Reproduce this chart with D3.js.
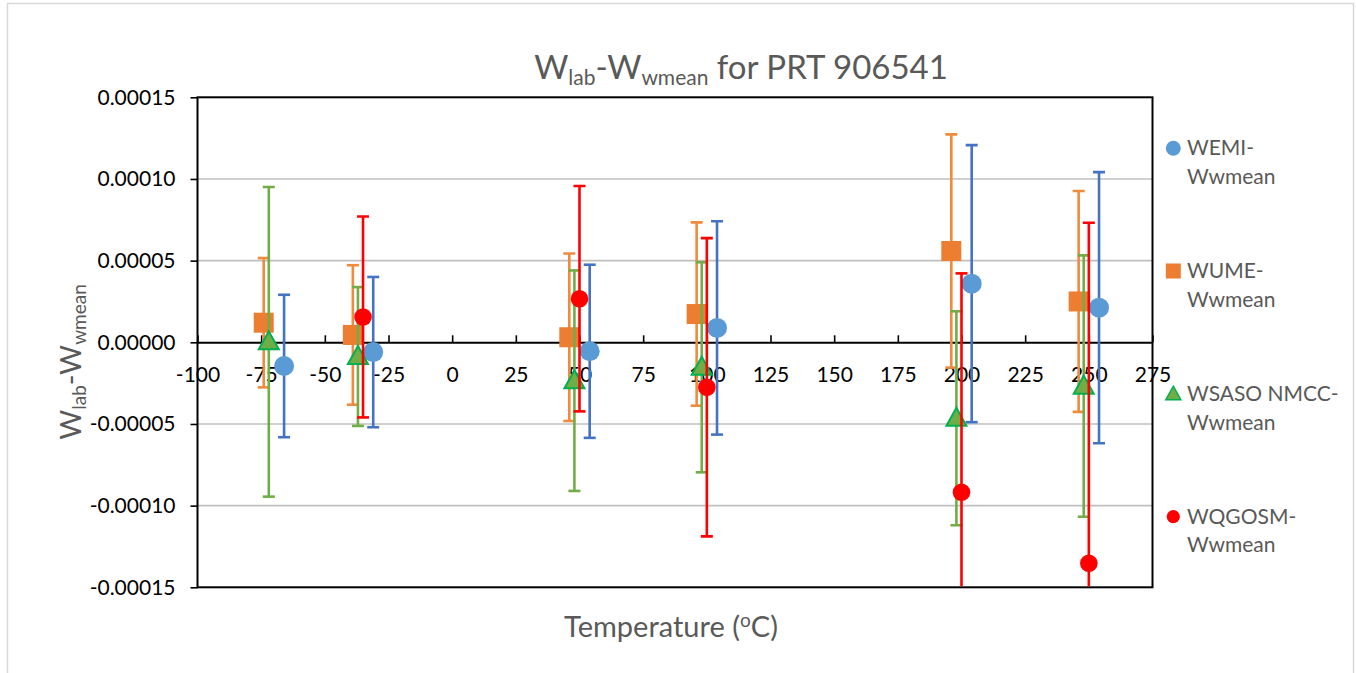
<!DOCTYPE html>
<html>
<head>
<meta charset="utf-8">
<script src="https://cdn.jsdelivr.net/npm/d3@7"></script>
<style>
  html, body { margin: 0; padding: 0; background: #fff; }
  svg { display: block; font-family: Lato, "Open Sans", sans-serif; }
</style>
</head>
<body>
<svg id="chart" width="1356" height="673"></svg>
<script>
// Series: temperature (°C), deviation W_lab - W_wmean, and half-width of the error bar
const seriesNames = ["WEMI-Wwmean", "WUME-Wwmean", "WSASO NMCC-Wwmean", "WQGOSM-Wwmean"];
const legendLines = [["WEMI-", "Wwmean"], ["WUME-", "Wwmean"], ["WSASO NMCC-", "Wwmean"], ["WQGOSM-", "Wwmean"]];

const wemiT   = [-66, -31, 54, 104, 204, 254];
const wemiW   = [-1.45e-5, -0.60e-5, -0.55e-5, 0.88e-5, 3.59e-5, 2.12e-5];
const wemiU   = [4.36e-5, 4.60e-5, 5.30e-5, 6.53e-5, 8.48e-5, 8.30e-5];

const wumeT   = [-74, -39, 46, 96, 196, 246];
const wumeW   = [1.20e-5, 0.45e-5, 0.31e-5, 1.73e-5, 5.59e-5, 2.50e-5];
const wumeU   = [3.96e-5, 4.27e-5, 5.13e-5, 5.61e-5, 7.14e-5, 6.76e-5];

const wsasoT  = [-72, -37, 48, 98, 198, 248];
const wsasoW  = [0.03e-5, -0.87e-5, -2.35e-5, -1.53e-5, -4.65e-5, -2.68e-5];
const wsasoU  = [9.48e-5, 4.25e-5, 6.75e-5, 6.43e-5, 6.55e-5, 8.00e-5];

const wqgosmT = [-35, 50, 100, 200, 250];
const wqgosmW = [1.55e-5, 2.67e-5, -2.75e-5, -9.18e-5, -13.53e-5];
const wqgosmU = [6.15e-5, 6.90e-5, 9.13e-5, 13.40e-5, 20.85e-5];

const xTicks = [-100, -75, -50, -25, 0, 25, 50, 75, 100, 125, 150, 175, 200, 225, 250, 275];
const yTicks = [-0.00015, -0.0001, -0.00005, 0, 0.00005, 0.0001, 0.00015];

const seriesStyle = [
  { shape: "circle",   fill: "#5b9bd5", stroke: "none",    bar: "#4472c4" },
  { shape: "square",   fill: "#ed7d31", stroke: "none",    bar: "#f08a3c" },
  { shape: "triangle", fill: "#70ad47", stroke: "#00b050", bar: "#70ad47" },
  { shape: "circle",   fill: "#ff0000", stroke: "none",    bar: "#ff0000", small: true }
];

const series = [
  { T: wemiT, W: wemiW, U: wemiU },
  { T: wumeT, W: wumeW, U: wumeU },
  { T: wsasoT, W: wsasoW, U: wsasoU },
  { T: wqgosmT, W: wqgosmW, U: wqgosmU }
].map((s, i) => ({ name: seriesNames[i], style: seriesStyle[i],
  points: s.T.map((t, j) => ({ t, w: s.W[j], u: s.U[j] })) }));

const loc = d3.formatLocale({ decimal: ".", thousands: ",", grouping: [3], currency: ["", ""], minus: "-" });
const fmtY = loc.format(".5f");
const fmtX = loc.format("d");

const svg = d3.select("#chart");
const plot = { left: 197.5, right: 1152.5, top: 97.3, bottom: 587.3 };

const x = d3.scaleLinear().domain([-100, 275]).range([plot.left, plot.right]);
const y = d3.scaleLinear().domain([-0.00015, 0.00015]).range([plot.bottom, plot.top]);

// outer chart frame
svg.append("rect")
  .attr("x", 7.5).attr("y", 3.5).attr("width", 1346).attr("height", 720)
  .attr("fill", "#fff").attr("stroke", "#d9d9d9").attr("stroke-width", 1.5);

// horizontal gridlines
svg.append("g").selectAll("line")
  .data(yTicks.filter(v => v !== 0 && Math.abs(v) < 0.00014))
  .join("line")
  .attr("x1", plot.left).attr("x2", plot.right)
  .attr("y1", d => y(d)).attr("y2", d => y(d))
  .attr("stroke", "#c0c0c0").attr("stroke-width", 1.6);

// y axis with outside ticks
const yAxis = svg.append("g")
  .attr("transform", `translate(${plot.left},0)`)
  .call(d3.axisLeft(y).tickValues(yTicks).tickFormat(fmtY).tickSizeInner(7).tickSizeOuter(0).tickPadding(15));
yAxis.select(".domain").remove();
yAxis.selectAll(".tick line").attr("stroke", "#000").attr("stroke-width", 1.6);
yAxis.selectAll(".tick text").attr("fill", "#000").attr("font-size", 21).attr("font-family", "Lato");

// x axis along zero, ticks pointing upward
const xAxis = svg.append("g")
  .attr("transform", `translate(0,${y(0)})`)
  .call(d3.axisBottom(x).tickValues(xTicks).tickFormat(fmtX).tickSizeInner(-7).tickSizeOuter(0).tickPadding(24.5));
xAxis.select(".domain").attr("stroke", "#000").attr("stroke-width", 2);
xAxis.selectAll(".tick line").attr("stroke", "#000").attr("stroke-width", 1.6);
xAxis.selectAll(".tick text").attr("fill", "#000").attr("font-size", 21).attr("font-family", "Lato");

// plot frame
svg.append("rect")
  .attr("x", plot.left).attr("y", plot.top)
  .attr("width", plot.right - plot.left).attr("height", plot.bottom - plot.top)
  .attr("fill", "none").attr("stroke", "#000").attr("stroke-width", 2);

// clip for marks
svg.append("defs").append("clipPath").attr("id", "plotClip")
  .append("rect")
  .attr("x", plot.left).attr("y", plot.top)
  .attr("width", plot.right - plot.left).attr("height", plot.bottom - plot.top - 1);

const marks = svg.append("g").attr("clip-path", "url(#plotClip)");

function drawMarker(g, style, cx, cy, size) {
  if (style.shape === "circle") {
    const r = style.small ? size * 0.44 : size / 2;
    g.append("circle").attr("cx", cx).attr("cy", cy).attr("r", r).attr("fill", style.fill);
  } else if (style.shape === "square") {
    g.append("rect").attr("x", cx - size / 2).attr("y", cy - size / 2)
      .attr("width", size).attr("height", size).attr("fill", style.fill);
  } else {
    const w = size, h = size * 0.9;
    g.append("path")
      .attr("d", `M${cx},${cy - h * 0.58} L${cx + w / 2},${cy + h * 0.42} L${cx - w / 2},${cy + h * 0.42} Z`)
      .attr("fill", style.fill).attr("stroke", style.stroke)
      .attr("stroke-width", size > 16 ? 2 : 1.5).attr("stroke-linejoin", "miter");
  }
}

series.forEach(s => {
  const g = marks.append("g");
  const capHalf = 6;
  s.points.forEach(p => {
    const px = x(p.t);
    const yHi = y(p.w + p.u), yLo = y(p.w - p.u);
    g.append("line").attr("x1", px).attr("x2", px).attr("y1", yHi).attr("y2", yLo)
      .attr("stroke", s.style.bar).attr("stroke-width", 2.6);
    [yHi, yLo].forEach(cy => {
      g.append("line").attr("x1", px - capHalf).attr("x2", px + capHalf).attr("y1", cy).attr("y2", cy)
        .attr("stroke", s.style.bar).attr("stroke-width", 2.6);
    });
  });
  s.points.forEach(p => drawMarker(g, s.style, x(p.t), y(p.w), 20));
});

// title
const title = svg.append("text")
  .attr("x", 741).attr("y", 79).attr("text-anchor", "middle")
  .attr("font-size", 33).attr("fill", "#595959").attr("font-family", "Lato");
title.append("tspan").text("W");
title.append("tspan").attr("font-size", 21).attr("dy", 6).text("lab");
title.append("tspan").attr("dy", -6).text("-W");
title.append("tspan").attr("font-size", 21).attr("dy", 6).text("wmean");
title.append("tspan").attr("dy", -6).text(" for PRT 906541");

// y axis title
const yTitle = svg.append("text")
  .attr("transform", "translate(81,362) rotate(-90)")
  .attr("text-anchor", "middle")
  .attr("font-size", 29).attr("fill", "#595959").attr("font-family", "Lato");
yTitle.append("tspan").text("W");
yTitle.append("tspan").attr("font-size", 19).attr("dy", 5).text("lab");
yTitle.append("tspan").attr("dy", -5).text("-W");
yTitle.append("tspan").attr("font-size", 19).attr("dy", 5).text("wmean");

// x axis title
const xTitle = svg.append("text")
  .attr("x", 671).attr("y", 637).attr("text-anchor", "middle")
  .attr("font-size", 29).attr("fill", "#595959").attr("font-family", "Lato");
xTitle.append("tspan").text("Temperature (");
xTitle.append("tspan").attr("font-size", 19).attr("dy", -10).text("o");
xTitle.append("tspan").attr("dy", 10).text("C)");

// legend
const legendY = [148.3, 271, 394, 516.7];
const legend = svg.append("g");
series.forEach((s, i) => {
  const g = legend.append("g");
  drawMarker(g, s.style, 1173.3, legendY[i], 15);
  const t = g.append("text").attr("font-size", 21).attr("fill", "#595959").attr("font-family", "Lato");
  legendLines[i].forEach((line, k) => {
    t.append("tspan").attr("x", 1187).attr("y", legendY[i] + 7 + k * 28.5).text(line);
  });
});
</script>
</body>
</html>
